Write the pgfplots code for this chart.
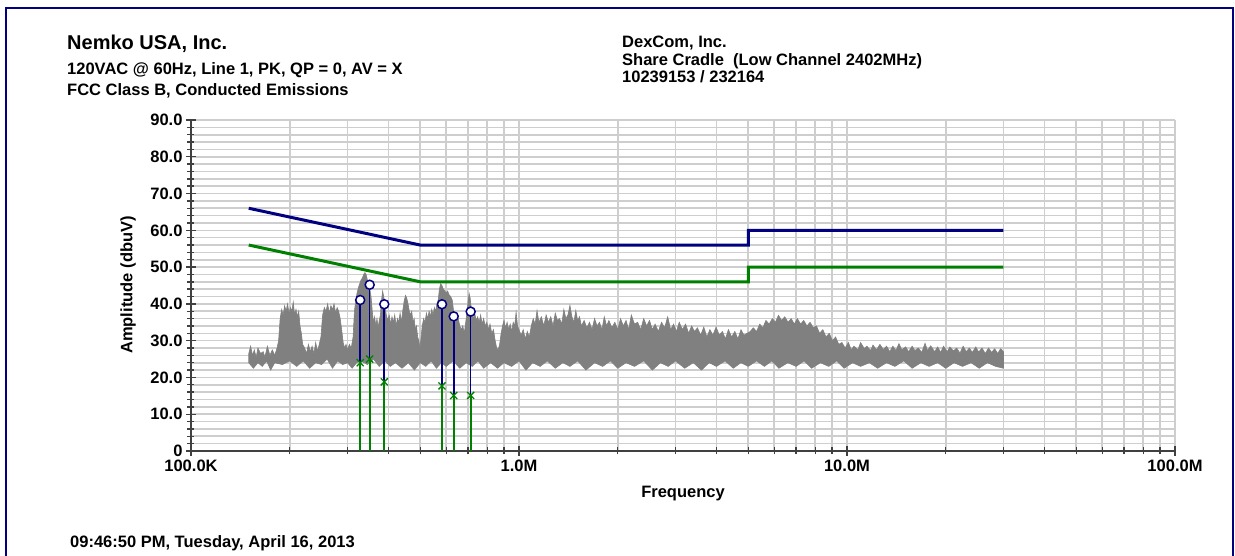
\documentclass[border=0pt]{standalone}
\usepackage{fontspec}
\setmainfont{Liberation Sans}
\usepackage{pgfplots}
\usepackage{pgfplotstable}
\pgfplotsset{compat=1.18}
\definecolor{navyc}{RGB}{0,0,128}
\definecolor{greenc}{RGB}{0,128,0}
\definecolor{gridc}{RGB}{206,206,206}
\definecolor{tracec}{RGB}{128,128,128}
\definecolor{axc}{RGB}{64,64,64}

% peak trace outline (MHz, dBuV): upper envelope left to right, then lower envelope right to left
\pgfplotstableread{
f v
0.150 26.5
0.152 28.5
0.154 26
0.156 27.5
0.158 25.5
0.160 28
0.163 26.5
0.166 27
0.168 25.5
0.171 28.5
0.174 26
0.177 27.5
0.180 26
0.183 28
0.185 30
0.187 36
0.189 38.5
0.191 37
0.193 39.5
0.195 38
0.197 40
0.199 37.5
0.201 39
0.203 38
0.205 40.5
0.207 37
0.209 38.5
0.211 36.5
0.213 38
0.215 34
0.217 32
0.219 29
0.222 28
0.225 26.5
0.228 29
0.231 27
0.234 28.5
0.237 26.5
0.240 29.5
0.243 27
0.246 29
0.249 31
0.252 37
0.255 39
0.258 38
0.261 40
0.264 37.5
0.267 39.5
0.270 38.5
0.273 40
0.276 37.5
0.279 39
0.282 38
0.285 36
0.288 33
0.291 29.5
0.294 28
0.297 29
0.300 27.5
0.304 29
0.308 28
0.312 31
0.315 38
0.318 41
0.321 43
0.324 44.5
0.327 45.5
0.330 46.5
0.333 47
0.336 48
0.339 48.5
0.342 48
0.345 46.5
0.348 45.5
0.351 44
0.354 42
0.357 38
0.360 35
0.363 36.5
0.366 34
0.369 36
0.372 33.5
0.375 35.5
0.378 37
0.381 41
0.384 43.5
0.387 42
0.390 40
0.394 37
0.398 35.5
0.402 37
0.406 34.5
0.410 36.5
0.414 35
0.418 37
0.422 34
0.426 36
0.430 35
0.434 37.5
0.438 35
0.442 38
0.447 41
0.451 42.3
0.455 41.5
0.459 40
0.463 38
0.467 37
0.471 38
0.475 35
0.479 36
0.483 33
0.487 34
0.491 31
0.495 30
0.499 28
0.503 31
0.507 34
0.512 36
0.517 35
0.522 37.5
0.527 36
0.532 38
0.537 36.5
0.542 38.5
0.547 37
0.552 39
0.557 38
0.562 40
0.567 41
0.572 44
0.577 45.5
0.582 45
0.588 44
0.594 43.5
0.600 43
0.606 43.5
0.612 42.5
0.619 42
0.626 41
0.632 38
0.639 37
0.646 35
0.653 36
0.660 34
0.667 33
0.674 34
0.681 32
0.688 35
0.695 38
0.700 41
0.705 42.8
0.710 41.5
0.715 39
0.720 37
0.726 36
0.733 37.5
0.740 35.5
0.748 36.5
0.756 35
0.764 37
0.772 34.5
0.780 36
0.789 34
0.798 35
0.807 33
0.816 34.5
0.826 32
0.836 33
0.846 30
0.855 28
0.864 27.5
0.873 29
0.882 32
0.891 34
0.900 35.5
0.910 33.5
0.920 35
0.930 33
0.940 34.5
0.950 32.5
0.960 35
0.970 34
0.980 37.8
0.990 34
1.000 33
1.015 31.5
1.030 33
1.045 30.5
1.060 32.5
1.075 31
1.090 34
1.105 36
1.12 34.5
1.135 38.2
1.15 35
1.17 36.5
1.19 34
1.21 37
1.23 35
1.25 36.5
1.27 34
1.29 37.5
1.31 35.5
1.33 36
1.35 34.5
1.37 38.5
1.39 36
1.41 37
1.43 39.6
1.45 36.5
1.47 35
1.49 38.2
1.51 35.5
1.53 36.5
1.55 34
1.58 35.5
1.61 33.5
1.64 35
1.67 33
1.70 36
1.73 34
1.76 35
1.79 33
1.82 36.5
1.85 34
1.88 35.5
1.92 33.5
1.96 35
2.00 33
2.04 36
2.08 34
2.12 35.5
2.16 33
2.20 37
2.25 34.5
2.30 35
2.35 33
2.40 36
2.45 34
2.50 35.5
2.55 33
2.60 34.5
2.66 32.5
2.72 35
2.78 33.5
2.84 36.5
2.90 33
2.96 34.5
3.02 32.5
3.08 35
3.15 33
3.22 34.5
3.29 32
3.36 34
3.43 32.5
3.50 33.5
3.58 31.5
3.66 33.7
3.74 31
3.82 33
3.90 31.5
3.99 33.7
4.08 31.5
4.17 32.5
4.26 30.5
4.35 33
4.45 31
4.55 32.5
4.65 30.5
4.75 33
4.85 31.5
4.96 32
5.07 32.5
5.18 33.5
5.30 32.5
5.42 34.5
5.54 33.5
5.66 35.5
5.79 34.5
5.92 36
6.05 35
6.18 36.9
6.32 35.5
6.46 36.5
6.61 35
6.76 36
6.91 34.5
7.06 36
7.22 34.5
7.38 35.5
7.55 34
7.72 35
7.89 33.5
8.07 34
8.25 32
8.44 33
8.63 31
8.83 32
9.03 30
9.23 31
9.44 29
9.65 29.5
9.87 28
10.1 29.5
10.3 27.5
10.5 28.5
10.8 27.5
11.0 29.5
11.3 27.8
11.5 28.5
11.8 27.3
12.0 28.8
12.3 27.5
12.6 29
12.9 27.6
13.2 28.5
13.5 27
13.8 28.5
14.1 27.3
14.4 29.2
14.7 27.5
15.1 28.3
15.4 27
15.8 28.5
16.1 27.3
16.5 28
16.9 26.8
17.3 29.3
17.6 27.3
18.0 28.6
18.5 27
18.9 28.3
19.3 26.8
19.7 28.5
20.2 27
20.6 28.3
21.1 27.2
21.6 28
22.1 26.6
22.6 28.5
23.1 27
23.6 28
24.1 26.8
24.7 28.3
25.2 26.9
25.8 28
26.4 26.5
27.0 28
27.6 26.8
28.2 27.8
28.8 26.5
29.4 27.8
30.0 27
30.0 22.5
28.4 23
26.8 24
25.3 22.5
23.9 24
22.5 23
21.2 24
20.0 22.5
18.9 24
17.8 23
16.8 24
15.8 22.5
14.9 24.5
14.0 23
13.2 24
12.4 22.5
11.7 24
11.0 23
10.4 24
9.80 22.5
9.30 24.5
8.80 23
8.30 24
7.80 22.5
7.40 24.5
7.00 23
6.60 24
6.20 22.5
5.90 24.5
5.60 23
5.30 24.5
5.00 23
4.75 24
4.50 22.5
4.25 24.5
4.00 23
3.80 24
3.60 22
3.40 24
3.20 22.5
3.00 24.5
2.85 23
2.70 24
2.55 22
2.40 24.5
2.25 23
2.12 24
2.00 22.5
1.90 24.5
1.80 23
1.70 24
1.60 22
1.51 24.5
1.43 23
1.36 24
1.29 22.5
1.22 24.5
1.16 23
1.10 24
1.05 22
1.00 24.5
0.950 23
0.900 24
0.860 22.5
0.820 24
0.780 22.5
0.750 24.5
0.720 23
0.690 24
0.660 22.5
0.630 24.5
0.600 23
0.580 24
0.560 22.5
0.540 24.5
0.520 23
0.500 24
0.480 22
0.460 24
0.440 22.5
0.420 24
0.405 23
0.390 24.5
0.375 23
0.360 25
0.345 23.5
0.330 24.5
0.320 24
0.310 22.5
0.300 24
0.290 23.5
0.280 24.5
0.270 22.5
0.260 25
0.250 23.5
0.240 24
0.230 22.5
0.220 24.5
0.210 23
0.200 24.5
0.190 23.5
0.180 24
0.175 22
0.170 24.5
0.165 23
0.160 24
0.155 22.5
0.150 24
}\tracetab

\begin{document}
\begin{tikzpicture}
\useasboundingbox (0pt,0pt) rectangle (1235pt,556pt);
\draw[navyc, line width=2.2pt] (6pt,-20pt) rectangle (1233pt,548pt);

\node[anchor=base west, inner sep=0, font=\bfseries\fontsize{20}{20}\selectfont] at (67pt,506pt) {Nemko USA, Inc.};
\node[anchor=base west, inner sep=0, font=\bfseries\fontsize{16.5}{16.5}\selectfont] at (67pt,481pt) {120VAC @ 60Hz, Line 1, PK, QP = 0, AV = X};
\node[anchor=base west, inner sep=0, font=\bfseries\fontsize{16.5}{16.5}\selectfont] at (67pt,460pt) {FCC Class B, Conducted Emissions};

\node[anchor=base west, inner sep=0, font=\bfseries\fontsize{16.5}{16.5}\selectfont] at (622pt,508pt) {DexCom, Inc.};
\node[anchor=base west, inner sep=0, font=\bfseries\fontsize{16.5}{16.5}\selectfont] at (622pt,490pt) {Share Cradle\ \ (Low Channel 2402MHz)};
\node[anchor=base west, inner sep=0, font=\bfseries\fontsize{16.5}{16.5}\selectfont] at (622pt,473pt) {10239153 / 232164};

\node[anchor=base west, inner sep=0, font=\bfseries\fontsize{16.5}{16.5}\selectfont] at (70pt,8pt) {09:46:50 PM, Tuesday, April 16, 2013};

\node[rotate=90, inner sep=0, font=\bfseries\fontsize{16.5}{16.5}\selectfont] at (128pt,271pt) {Amplitude (dbuV)};
\node[anchor=base, inner sep=0, font=\bfseries\fontsize{16.5}{16.5}\selectfont] at (683pt,58pt) {Frequency};

\begin{axis}[
  at={(191pt,105pt)}, anchor=south west,
  scale only axis, width=984pt, height=331pt,
  xmode=log, xmin=0.1, xmax=100, ymin=0, ymax=90,
  axis x line=bottom, axis y line=left,
  axis line style={-, draw=axc, line width=1.8pt},
  xtick={0.1,1,10,100},
  xticklabels={100.0K,1.0M,10.0M,100.0M},
  minor xtick={0.2,0.3,0.4,0.5,0.6,0.7,0.8,0.9,2,3,4,5,6,7,8,9,20,30,40,50,60,70,80,90},
  ytick={0,10,20,30,40,50,60,70,80,90},
  yticklabels={0,10.0,20.0,30.0,40.0,50.0,60.0,70.0,80.0,90.0},
  minor ytick={2,4,6,8,12,14,16,18,22,24,26,28,32,34,36,38,42,44,46,48,52,54,56,58,62,64,66,68,72,74,76,78,82,84,86,88},
  xmajorgrids, xminorgrids, ymajorgrids, yminorgrids,
  major grid style={gridc, line width=1.6pt},
  minor grid style={gridc, line width=1.6pt},
  tick align=center,
  major tick length=10pt, minor tick length=7pt,
  tick style={axc, line width=1.4pt},
  ticklabel style={font=\bfseries\fontsize{16.5}{16.5}\selectfont},
]
\addplot[draw=tracec, fill=tracec, line width=0.6pt] table[x=f, y=v] {\tracetab} -- cycle;

\addplot[navyc, line width=3pt] coordinates {(0.15,66) (0.5,56) (5,56) (5,60) (30,60)};
\addplot[greenc, line width=3pt] coordinates {(0.15,56) (0.5,46) (5,46) (5,50) (30,50)};

\addplot[greenc, line width=2pt] coordinates {(0.328,0) (0.328,24.0)};
\addplot[greenc, line width=2pt] coordinates {(0.3506,0) (0.3506,25.0)};
\addplot[greenc, line width=2pt] coordinates {(0.3885,0) (0.3885,18.8)};
\addplot[greenc, line width=2pt] coordinates {(0.5824,0) (0.5824,17.7)};
\addplot[greenc, line width=2pt] coordinates {(0.6324,0) (0.6324,15.1)};
\addplot[greenc, line width=2pt] coordinates {(0.7124,0) (0.7124,15.1)};
\addplot[navyc, line width=1.6pt] coordinates {(0.328,24.0) (0.328,41.05)};
\addplot[navyc, line width=1.6pt] coordinates {(0.3506,25.0) (0.3506,45.2)};
\addplot[navyc, line width=1.6pt] coordinates {(0.3885,18.8) (0.3885,39.9)};
\addplot[navyc, line width=1.6pt] coordinates {(0.5824,17.7) (0.5824,39.9)};
\addplot[navyc, line width=1.6pt] coordinates {(0.6324,15.1) (0.6324,36.6)};
\addplot[navyc, line width=1.6pt] coordinates {(0.7124,15.1) (0.7124,37.9)};

\addplot[only marks, mark=x, mark size=5pt, greenc, mark options={line width=1.3pt}] coordinates {(0.328,24.0) (0.3506,25.0) (0.3885,18.8) (0.5824,17.7) (0.6324,15.1) (0.7124,15.1)};
\addplot[only marks, mark=*, mark size=4.5pt, mark options={fill=white, draw=navyc, line width=1.5pt}] coordinates {(0.328,41.05) (0.3506,45.2) (0.3885,39.9) (0.5824,39.9) (0.6324,36.6) (0.7124,37.9)};
\end{axis}
\end{tikzpicture}
\end{document}
